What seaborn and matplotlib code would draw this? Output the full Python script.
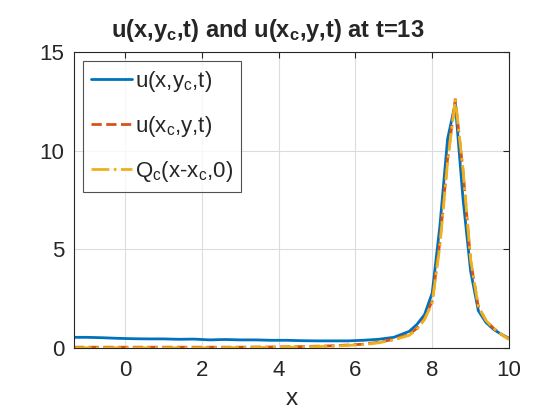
import matplotlib
matplotlib.use('Agg')
import matplotlib.pyplot as plt
import seaborn as sns
import pandas as pd

# ── data ────────────────────────────────────────────────────────────────────
x_vals = [-1.33, -1.0, -0.6, -0.2, 0.2, 0.6, 1.0, 1.4, 1.8, 2.2, 2.6, 3.0,
          3.4, 3.8, 4.2, 4.6, 5.0, 5.4, 5.8, 6.2, 6.6, 7.0, 7.4, 7.6, 7.8,
          8.0, 8.2, 8.4, 8.6, 8.8, 9.0, 9.2, 9.4, 9.6, 9.8, 10.0]

u_xyc = [0.55, 0.55, 0.53, 0.5, 0.48, 0.47, 0.47, 0.45, 0.46, 0.42, 0.44, 0.42,
         0.42, 0.4, 0.4, 0.38, 0.37, 0.37, 0.37, 0.4, 0.45, 0.55, 0.85, 1.2, 1.7,
         2.8, 6.2, 10.6, 12.4, 7.6, 3.9, 1.9, 1.3, 0.95, 0.7, 0.5]

u_xcy = [0.05, 0.05, 0.05, 0.05, 0.05, 0.05, 0.05, 0.05, 0.05, 0.05, 0.05, 0.05,
         0.06, 0.06, 0.07, 0.08, 0.1, 0.12, 0.16, 0.2, 0.3, 0.45, 0.7, 1.0, 1.5,
         2.4, 5.4, 9.6, 12.6, 9.0, 4.4, 2.1, 1.4, 1.0, 0.7, 0.45]

q_c = [0.02, 0.02, 0.02, 0.02, 0.02, 0.02, 0.02, 0.02, 0.02, 0.02, 0.03, 0.03,
       0.04, 0.04, 0.05, 0.06, 0.08, 0.1, 0.14, 0.18, 0.27, 0.42, 0.65, 0.95, 1.45,
       2.3, 5.2, 9.4, 12.6, 9.1, 4.5, 2.1, 1.4, 1.0, 0.7, 0.45]

labels = ['u(x,y$_\\mathregular{c}$,t)', 'u(x$_\\mathregular{c}$,y,t)',
          'Q$_\\mathregular{c}$(x-x$_\\mathregular{c}$,0)']
colors = ['#0072BD', '#D95319', '#EDB120']
styles = ['-', '--', '-.']

df = pd.DataFrame({'x': x_vals, labels[0]: u_xyc, labels[1]: u_xcy, labels[2]: q_c})

sns.set_style('white')
plt.rcParams['font.family'] = ['Liberation Sans', 'DejaVu Sans']
plt.rcParams['mathtext.default'] = 'regular'

fig = plt.figure(figsize=(5.6, 4.2), dpi=100)
ax = fig.add_axes([0.132, 0.171, 0.777, 0.705])

for lab, col, ls in zip(labels, colors, styles):
    sns.lineplot(data=df, x='x', y=lab, ax=ax, color=col, linestyle=ls,
                 linewidth=2, label=lab)

ax.set_xlim(-1.33, 10)
ax.set_ylim(0, 15)
ax.set_xticks([0, 2, 4, 6, 8, 10])
ax.set_yticks([0, 5, 10, 15])
ax.grid(True, color='#DCDCDC', linewidth=0.8)
ax.tick_params(direction='in', length=4, labelsize=16, top=True, right=True,
               colors='#262626', labelcolor='#262626')
ax.tick_params(axis='x', pad=8.5)
ax.tick_params(axis='y', pad=7)
for sp in ax.spines.values():
    sp.set_color('#262626')
    sp.set_linewidth(0.8)

ax.set_xlabel('x', fontsize=17.5, color='#262626', labelpad=5)
ax.set_ylabel('')
ttl = ax.set_title('u(x,y$_\\mathregular{c}$,t) and u(x$_\\mathregular{c}$,y,t) at t=13',
                   fontsize=17, fontweight='bold', pad=11)
ttl.set_x(0.445)

leg = ax.legend(loc='upper left', fontsize=16, frameon=True, fancybox=False,
                edgecolor='#262626', handlelength=1.85, handletextpad=0.15,
                borderaxespad=0.4, borderpad=0.35, labelspacing=0.9)
leg.get_frame().set_linewidth(0.8)

fig.savefig('out.png', dpi=100)
